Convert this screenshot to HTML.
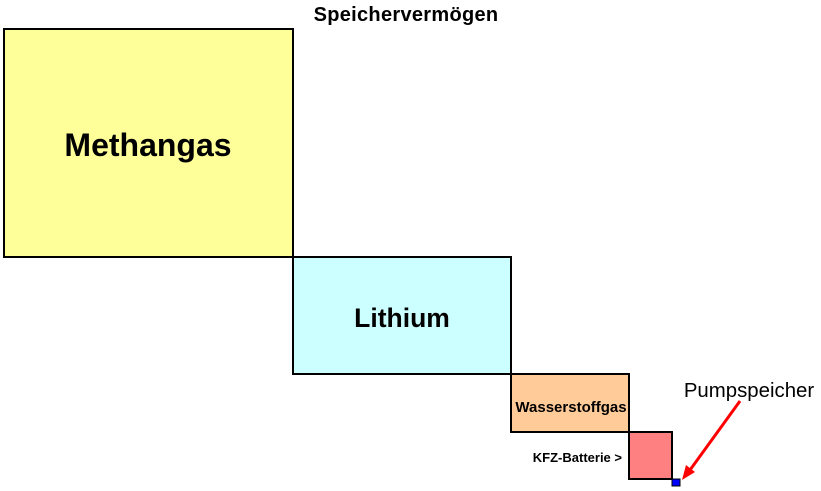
<!DOCTYPE html>
<html><head><meta charset="utf-8"><style>
html,body{margin:0;padding:0;background:#fff;width:821px;height:491px;overflow:hidden}
svg{display:block}
text{font-family:"Liberation Sans",Arial,sans-serif}
</style></head><body>
<svg width="821" height="491" viewBox="0 0 821 491" xmlns="http://www.w3.org/2000/svg">
<text x="406" y="21" text-anchor="middle" font-size="20" font-weight="bold" letter-spacing="0.3" fill="#000">Speichervermögen</text>
<rect x="4" y="29" width="289" height="228" fill="#ffff99" stroke="#000" stroke-width="2"/>
<text x="148" y="156" text-anchor="middle" font-size="32" font-weight="bold">Methangas</text>
<rect x="293" y="257" width="218" height="117" fill="#ccffff" stroke="#000" stroke-width="2"/>
<text x="402" y="327" text-anchor="middle" font-size="26.5" font-weight="bold">Lithium</text>
<rect x="511" y="374" width="118" height="58" fill="#ffcc99" stroke="#000" stroke-width="2"/>
<text x="571" y="412" text-anchor="middle" font-size="15" font-weight="bold">Wasserstoffgas</text>
<rect x="629" y="432" width="43" height="47" fill="#ff8080" stroke="#000" stroke-width="2"/>
<text x="622" y="462" text-anchor="end" font-size="13" font-weight="bold">KFZ-Batterie &gt;</text>
<rect x="672" y="479" width="8" height="7" fill="#0000ff" stroke="#000" stroke-width="1"/>
<text x="749" y="397" text-anchor="middle" font-size="20.4">Pumpspeicher</text>
<line x1="740" y1="401" x2="690" y2="470" stroke="#ff0000" stroke-width="3"/>
<polygon points="682,480 686,465 695,472" fill="#ff0000"/>
</svg>
</body></html>
